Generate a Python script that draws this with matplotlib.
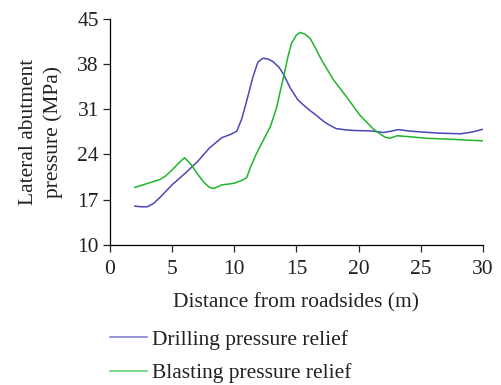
import matplotlib
matplotlib.use("Agg")
import matplotlib.pyplot as plt

# Lateral abutment pressure vs distance from roadside
drill_x = [2.0, 2.5, 3.0, 3.5, 4.0, 5.0, 6.0, 7.0, 8.0, 9.0, 9.7, 10.2, 10.6,
           11.0, 11.5, 11.9, 12.3, 12.7, 13.1, 13.6, 14.0, 14.5, 15.1, 15.6,
           16.1, 16.7, 17.2, 17.7, 18.2, 19.0, 19.8, 21.0, 22.0, 22.6, 23.2,
           24.0, 24.9, 26.5, 28.2, 29.2, 30.0]
drill_y = [16.0, 15.9, 15.9, 16.4, 17.3, 19.3, 21.0, 22.8, 25.0, 26.6, 27.1,
           27.6, 29.5, 32.3, 36.0, 38.3, 38.9, 38.8, 38.4, 37.5, 36.3, 34.3,
           32.5, 31.6, 30.8, 29.9, 29.1, 28.5, 28.0, 27.8, 27.7, 27.65, 27.4,
           27.6, 27.85, 27.65, 27.5, 27.3, 27.2, 27.5, 27.9]

blast_x = [2.0, 3.0, 4.0, 4.5, 5.0, 5.5, 6.0, 6.5, 7.0, 7.5, 8.0, 8.3, 8.7,
           9.0, 9.5, 10.0, 10.5, 11.0, 11.3, 11.7, 12.2, 12.9, 13.4, 13.7,
           14.0, 14.3, 14.6, 15.0, 15.3, 15.7, 16.1, 16.5, 17.0, 17.5, 18.0,
           19.0, 20.1, 21.2, 22.1, 22.5, 23.1, 24.4, 25.5, 27.5, 30.0]
blast_y = [18.9, 19.5, 20.1, 20.7, 21.6, 22.6, 23.5, 22.5, 21.1, 19.8, 18.9,
           18.75, 19.0, 19.3, 19.4, 19.55, 19.9, 20.4, 22.0, 23.8, 25.7, 28.3,
           31.2, 33.8, 36.3, 39.0, 41.2, 42.5, 42.9, 42.6, 42.0, 40.6, 38.7,
           37.1, 35.5, 33.0, 30.1, 27.9, 26.7, 26.5, 26.9, 26.7, 26.5, 26.35,
           26.1]

series_labels = ["Drilling pressure relief", "Blasting pressure relief"]
x_ticks = [0, 5, 10, 15, 20, 25, 30]
y_ticks = [10, 17, 24, 31, 38, 45]

plt.rcParams["font.family"] = ["Liberation Serif", "DejaVu Serif"]
TXT = "#222222"
FS = 15.5

fig = plt.figure(figsize=(5.02, 3.85), dpi=100)
ax = fig.add_axes([0.219, 0.364, 0.743, 0.587])

ax.plot(drill_x, drill_y, color="#4b48b8", lw=1.1, label=series_labels[0])
ax.plot(blast_x, blast_y, color="#1fb52a", lw=1.1, label=series_labels[1])

ax.set_xlim(0, 30)
ax.set_ylim(10, 45)
ax.set_xticks(x_ticks)
ax.set_yticks(y_ticks)
ax.spines["top"].set_visible(False)
ax.spines["right"].set_visible(False)
for sp in ax.spines.values():
    sp.set_linewidth(0.9)
ax.tick_params(direction="out", length=5, width=0.9, labelsize=FS, colors=TXT)
ax.tick_params(axis="x", pad=6)
ax.tick_params(axis="y", pad=3)
ax.set_xlabel("Distance from roadsides (m)", fontsize=FS, color=TXT, labelpad=10)
ax.set_ylabel("Lateral abutment\npressure (MPa)", fontsize=FS, color=TXT,
              linespacing=1.4, labelpad=10)

leg = fig.legend(loc="upper left", bbox_to_anchor=(0.219, 0.143), frameon=False,
                 fontsize=FS, handlelength=1.7, handletextpad=0.25, labelspacing=0.62,
                 borderaxespad=0, borderpad=0, labelcolor=TXT)
# legend keys are drawn lighter than the plotted curves
leg.legend_handles[0].set_color("#7a78cc")
leg.legend_handles[1].set_color("#55c965")

fig.savefig("out.png", dpi=100)
